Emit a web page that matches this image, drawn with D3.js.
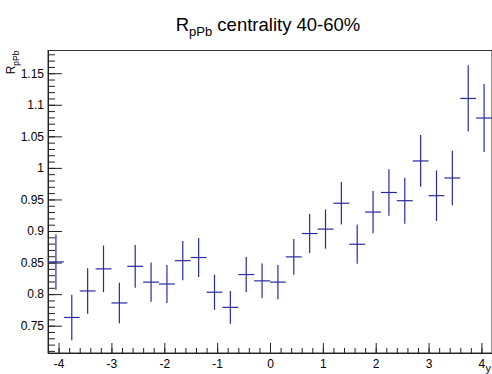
<!DOCTYPE html>
<html>
<head>
<meta charset="utf-8">
<script src="https://cdn.jsdelivr.net/npm/d3@7"></script>
<style>
  body { margin: 0; background: #fff; }
  text { font-family: "Liberation Sans", Arial, sans-serif; fill: #000; }
</style>
</head>
<body>
<div id="container"></div>
<script>
// bin centres in rapidity (bin width 0.3)
const binCenters = [-4.05, -3.75, -3.45, -3.15, -2.85, -2.55, -2.25, -1.95, -1.65, -1.35,
  -1.05, -0.75, -0.45, -0.15, 0.15, 0.45, 0.75, 1.05, 1.35, 1.65,
  1.95, 2.25, 2.55, 2.85, 3.15, 3.45, 3.75, 4.05];
const binHalfWidth = 0.15;
const rpPb = [0.851, 0.763, 0.805, 0.840, 0.786, 0.844, 0.819, 0.816, 0.853, 0.858,
  0.803, 0.779, 0.831, 0.821, 0.819, 0.859, 0.896, 0.903, 0.944, 0.879,
  0.930, 0.961, 0.948, 1.011, 0.956, 0.984, 1.110, 1.079];
const rpPbErr = [0.044, 0.036, 0.036, 0.037, 0.032, 0.034, 0.031, 0.030, 0.031, 0.031,
  0.028, 0.026, 0.028, 0.0275, 0.027, 0.0285, 0.031, 0.031, 0.0335, 0.031,
  0.0335, 0.037, 0.0365, 0.041, 0.040, 0.043, 0.0525, 0.054];
const xTicks = [-4, -3, -2, -1, 0, 1, 2, 3, 4];
const yTicks = [0.75, 0.8, 0.85, 0.9, 0.95, 1, 1.05, 1.1, 1.15];

const width = 492;
const height = 374;
const marginTop = 50.5;
const marginRight = 0;
const marginBottom = 21;
const marginLeft = 48;

const x = d3.scaleLinear([-4.2, 4.2], [marginLeft, width - marginRight]);
const y = d3.scaleLinear([0.7067, 1.186], [height - marginBottom, marginTop]);

const svg = d3.create("svg")
  .attr("width", width)
  .attr("height", height);

svg.append("rect").attr("width", width).attr("height", height).attr("fill", "#fff");

// frame
svg.append("rect")
  .attr("x", marginLeft).attr("y", marginTop)
  .attr("width", width - marginRight - marginLeft)
  .attr("height", height - marginBottom - marginTop)
  .attr("fill", "none").attr("stroke", "#333");

// x axis: minor then major ticks
const xMinor = d3.range(-42, 43, 2).map(d => d / 10);
svg.append("g")
  .attr("transform", `translate(0,${height - marginBottom})`)
  .call(d3.axisBottom(x).tickValues(xMinor).tickSize(-5).tickSizeOuter(0).tickFormat(""));
svg.append("g")
  .attr("class", "xaxis")
  .attr("transform", `translate(0,${height - marginBottom})`)
  .call(d3.axisBottom(x).tickValues(xTicks).tickSize(-10).tickSizeOuter(0).tickPadding(6).tickFormat(d => String(d)));

// y axis
const yMinor = d3.range(71, 119).map(d => d / 100);
svg.append("g")
  .attr("transform", `translate(${marginLeft},0)`)
  .call(d3.axisLeft(y).tickValues(yMinor).tickSize(-7).tickSizeOuter(0).tickFormat(""));
svg.append("g")
  .attr("class", "yaxis")
  .attr("transform", `translate(${marginLeft},0)`)
  .call(d3.axisLeft(y).tickValues(yTicks).tickSize(-14).tickSizeOuter(0).tickPadding(4).tickFormat(d => String(d)));

svg.selectAll(".domain").attr("stroke", "#222");
svg.selectAll(".tick line").attr("stroke", "#222");
svg.selectAll(".tick text").attr("font-size", 12).attr("font-family", "Liberation Sans, Arial, sans-serif").attr("fill", "#111");
svg.selectAll(".xaxis .tick text").attr("dy", "0.75em");

// error bars
const pts = binCenters.map((c, i) => ({c, v: rpPb[i], e: rpPbErr[i]}));
const marks = svg.append("g").attr("stroke", "#2a2aa0").attr("stroke-width", 1.2);
marks.selectAll("line.h").data(pts).join("line")
  .attr("class", "h")
  .attr("x1", d => x(d.c - binHalfWidth)).attr("x2", d => x(d.c + binHalfWidth))
  .attr("y1", d => y(d.v)).attr("y2", d => y(d.v));
marks.selectAll("line.v").data(pts).join("line")
  .attr("class", "v")
  .attr("x1", d => x(d.c)).attr("x2", d => x(d.c))
  .attr("y1", d => y(d.v - d.e)).attr("y2", d => y(d.v + d.e));

// title
const title = svg.append("text")
  .attr("x", 268).attr("y", 31)
  .attr("text-anchor", "middle")
  .attr("font-size", 18.5);
title.append("tspan").text("R");
title.append("tspan").attr("font-size", 13).attr("dy", 5).text("pPb");
title.append("tspan").attr("dy", -5).text(" centrality 40-60%");

// y axis title
const ylab = svg.append("text")
  .attr("transform", `translate(15,${marginTop}) rotate(-90)`)
  .attr("text-anchor", "end")
  .attr("font-size", 12);
ylab.append("tspan").text("R");
ylab.append("tspan").attr("font-size", 8.5).attr("dy", 3.5).text("pPb");

// x axis title
svg.append("text")
  .attr("x", 491).attr("y", 372)
  .attr("text-anchor", "end")
  .attr("font-size", 11)
  .text("y");

document.getElementById("container").append(svg.node());
</script>
</body>
</html>
